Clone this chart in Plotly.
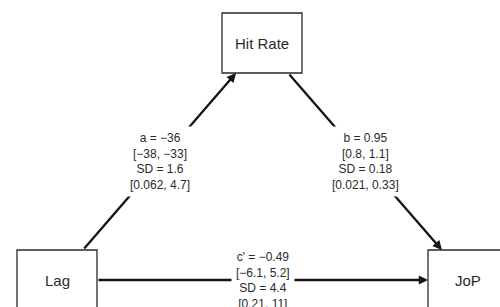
import plotly.graph_objects as go

# ---- data ----
nodes = ["Lag", "Hit Rate", "JoP"]
edge_from = ["Lag", "Hit Rate", "Lag"]
edge_to = ["Hit Rate", "JoP", "JoP"]
edge_names = ["a", "b", "c'"]
estimates = ["\u221236", "0.95", "\u22120.49"]
ci_low = ["\u221238", "0.8", "\u22126.1"]
ci_high = ["\u221233", "1.1", "5.2"]
sds = ["1.6", "0.18", "4.4"]
sd_ci_low = ["0.062", "0.021", "0.21"]
sd_ci_high = ["4.7", "0.33", "11"]

# ---- layout (pixel space) ----
centers = {"Lag": (57, 280), "Hit Rate": (262, 43), "JoP": (468, 280)}
BW, BH = 80, 60
W, H = 500, 307
FONT = "Liberation Sans, Arial, Helvetica, sans-serif"
LINE = "#141414"


def edge_point(c, toward):
    """Intersection of the segment c->toward with the box centred at c."""
    dx, dy = toward[0] - c[0], toward[1] - c[1]
    ts = []
    if dx:
        ts.append((BW / 2) / abs(dx))
    if dy:
        ts.append((BH / 2) / abs(dy))
    t = min(ts)
    return c[0] + dx * t, c[1] + dy * t


fig = go.Figure()
fig.add_trace(go.Scatter(x=[], y=[]))

shapes = []
for n in nodes:
    cx, cy = centers[n]
    shapes.append(dict(type="rect", xref="x", yref="y",
                       x0=cx - BW / 2, x1=cx + BW / 2, y0=cy - BH / 2, y1=cy + BH / 2,
                       line=dict(color="#2a2a2a", width=1.3), fillcolor="white", layer="below"))

annotations = []
for n in nodes:
    cx, cy = centers[n]
    annotations.append(dict(x=cx, y=cy, xref="x", yref="y", text=n, showarrow=False,
                            font=dict(family=FONT, size=15, color="#2a2a2a"),
                            xanchor="center", yanchor="middle"))

for i in range(len(edge_names)):
    c0, c1 = centers[edge_from[i]], centers[edge_to[i]]
    tail = edge_point(c0, c1)
    tip = edge_point(c1, c0)
    annotations.append(dict(x=tip[0], y=tip[1], ax=tail[0], ay=tail[1],
                            xref="x", yref="y", axref="x", ayref="y",
                            text="", showarrow=True, arrowhead=2, arrowsize=0.8,
                            arrowwidth=2.3, arrowcolor=LINE, standoff=0, startstandoff=0))

for i in range(len(edge_names)):
    c0, c1 = centers[edge_from[i]], centers[edge_to[i]]
    tail = edge_point(c0, c1)
    tip = edge_point(c1, c0)
    mx, my = (tail[0] + tip[0]) / 2, (tail[1] + tip[1]) / 2
    txt = (f"{edge_names[i]} = {estimates[i]}<br>[{ci_low[i]}, {ci_high[i]}]"
           f"<br>SD = {sds[i]}<br>[{sd_ci_low[i]}, {sd_ci_high[i]}]")
    annotations.append(dict(x=mx, y=my, xref="x", yref="y", text=txt, showarrow=False,
                            font=dict(family=FONT, size=12, color="#2a2a2a"),
                            bgcolor="white", borderpad=4,
                            xanchor="center", yanchor="middle"))

fig.update_layout(
    width=W, height=H,
    margin=dict(l=0, r=0, t=0, b=0),
    paper_bgcolor="white", plot_bgcolor="white",
    showlegend=False,
    xaxis=dict(range=[0, W], visible=False, fixedrange=True),
    yaxis=dict(range=[H, 0], visible=False, fixedrange=True),
    shapes=shapes, annotations=annotations,
)

fig.write_html("out.html", config={"displayModeBar": False},
               post_script="document.body.style.margin='0';document.body.style.overflow='hidden';")
